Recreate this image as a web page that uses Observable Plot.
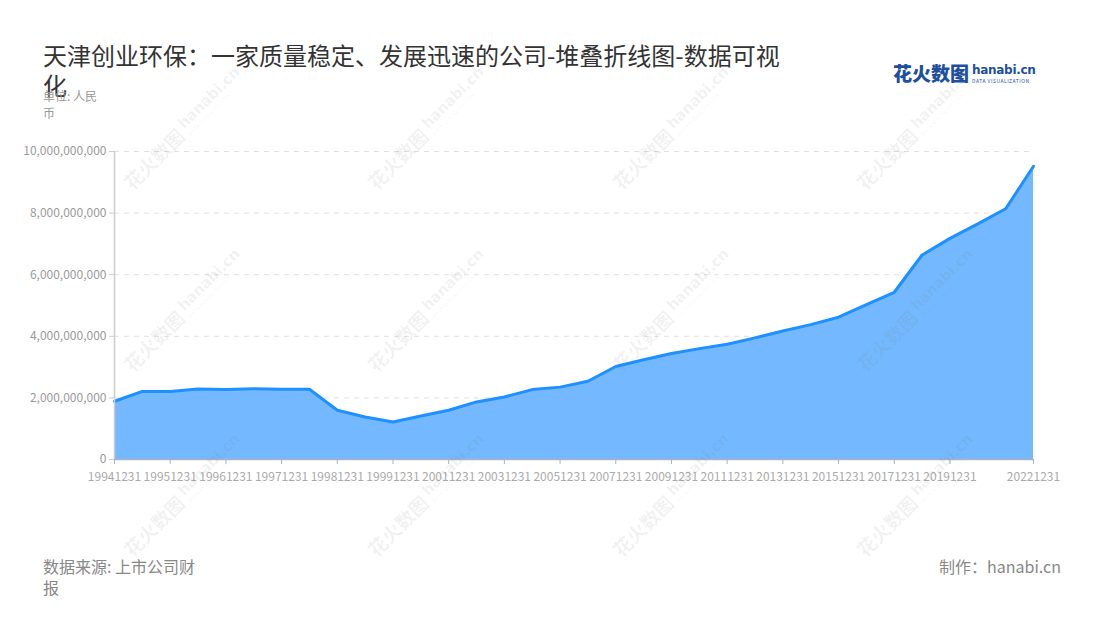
<!DOCTYPE html>
<html>
<head>
<meta charset="utf-8">
<script src="https://cdn.jsdelivr.net/npm/d3@7"></script>
<script src="https://cdn.jsdelivr.net/npm/@observablehq/plot@0.6"></script>
<style>
  html, body { margin: 0; padding: 0; background: #fff; }
  body { width: 1100px; height: 620px; position: relative; overflow: hidden;
         font-family: "Noto Sans CJK SC", "Noto Sans", sans-serif; }
  .abs { position: absolute; }
  #title { left: 43px; top: 40px; width: 750px; font-size: 24px; line-height: 30px; color: #333; }
  #unit { left: 43px; top: 87px; width: 66px; font-size: 12px; line-height: 17px; color: #999; }
  #chart { left: 0; top: 120px; width: 1100px; }
  #source { left: 43px; top: 556px; width: 160px; font-size: 16px; line-height: 21px; color: #888; }
  #maker { right: 39px; top: 556px; font-size: 16px; line-height: 21px; color: #888; }
  #logo { left: 893px; top: 59px; white-space: nowrap; }
  #logo .cn { font-size: 19px; font-weight: 900; color: #1d4f9f; vertical-align: top; }
  #logo .en { display: inline-block; vertical-align: top; margin-left: 3px; line-height: 1; }
  #logo .en b { font-family: "DejaVu Sans", sans-serif; font-size: 12px; color: #1d4f9f; display: block; margin-top: 5px; letter-spacing: -0.3px; }
  #logo .en i { font-style: normal; font-size: 5px; color: #1d4f9f; display: block; letter-spacing: 0.5px; margin-top: 2px; }
  .wm { position: absolute; transform: rotate(-45deg); transform-origin: center; white-space: nowrap;
        color: rgba(110,110,110,0.09); pointer-events: none; line-height: 1; }
  .wm .c { font-size: 19px; font-weight: 700; vertical-align: middle; }
  .wm .e { display: inline-block; vertical-align: middle; margin-left: 4px; }
  .wm .e b { display: block; font-family: "DejaVu Sans", sans-serif; font-size: 15px; font-weight: 700; letter-spacing: -0.3px; }
  .wm .e i { display: block; font-style: normal; font-size: 5px; letter-spacing: 0.5px; margin-top: 1px; }
</style>
</head>
<body>
<div id="title" class="abs">天津创业环保：一家质量稳定、发展迅速的公司-堆叠折线图-数据可视化</div>
<div id="unit" class="abs">单位: 人民币</div>
<div id="logo" class="abs"><span class="cn">花火数图</span><span class="en"><b>hanabi.cn</b><i>DATA VISUALIZATION</i></span></div>
<div id="chart" class="abs"></div>
<div id="source" class="abs">数据来源: 上市公司财报</div>
<div id="maker" class="abs">制作：hanabi.cn</div>
<div id="wms"></div>
<script>
// Report dates (categories)
const dates = [
  "19941231","19950630","19951231","19960630","19961231","19970630","19971231","19980630",
  "19981231","19990630","19991231","20001231","20011231","20021231","20031231","20041231",
  "20051231","20061231","20071231","20081231","20091231","20101231","20111231","20121231",
  "20131231","20141231","20151231","20161231","20171231","20181231","20191231","20201231",
  "20211231","20221231"
];
// Values in billions of yuan
const valuesBillion = [
  1.89, 2.21, 2.21, 2.29, 2.27, 2.30, 2.28, 2.28,
  1.60, 1.38, 1.22, 1.41, 1.60, 1.87, 2.03, 2.27,
  2.35, 2.54, 3.02, 3.24, 3.44, 3.60, 3.74, 3.95,
  4.17, 4.38, 4.62, 5.03, 5.43, 6.64, 7.18, 7.65,
  8.14, 9.52
];
const yTicks = [0, 2e9, 4e9, 6e9, 8e9, 1e10];
const xTickLabels = [
  "19941231","19951231","19961231","19971231","19981231","19991231","20011231","20031231",
  "20051231","20071231","20091231","20111231","20131231","20151231","20171231","20191231","20221231"
];

const data = dates.map((d, i) => ({i, date: d, value: valuesBillion[i] * 1e9}));
const xTickIdx = xTickLabels.map(l => dates.indexOf(l));

const chart = Plot.plot({
  width: 1100,
  height: 370,
  marginTop: 31,
  marginBottom: 31,
  marginLeft: 114,
  marginRight: 67,
  style: {fontFamily: '"Noto Sans CJK SC", "Noto Sans", sans-serif', fontSize: "12px", background: "transparent", color: "#999"},
  x: {type: "linear", domain: [0, dates.length - 1], label: null},
  y: {domain: [0, 1e10], label: null},
  marks: [
    Plot.gridY(yTicks.filter(d => d > 0), {stroke: "#e0e0e0", strokeOpacity: 1, strokeDasharray: "5,5", strokeWidth: 1}),
    Plot.areaY(data, {x: "i", y: "value", fill: "#74b9ff", fillOpacity: 1}),
    Plot.lineY(data, {x: "i", y: "value", stroke: "#1e90ff", strokeWidth: 3, strokeLinejoin: "round"}),
    Plot.ruleX([0], {y1: 0, y2: 1e10, stroke: "#cccccc", strokeWidth: 1.5}),
    Plot.ruleY([0], {stroke: "#a8b3c4", strokeWidth: 1.5}),
    Plot.axisY({ticks: yTicks, tickFormat: d3.format(","), tickSize: 5, tickPadding: 3, fontSize: 12, stroke: "#cccccc", fill: "#9a9a9a", label: null}),
    Plot.axisX({ticks: xTickIdx, tickFormat: i => dates[i], tickSize: 5, tickPadding: 8, fontSize: 12, stroke: "#a8b3c4", fill: "#aaaaaa", label: null})
  ]
});
document.getElementById("chart").appendChild(chart);

// watermarks
const wmX = [183, 427, 672, 916];
const wmY = [128, 310, 495];
const wms = document.getElementById("wms");
wmY.forEach(cy => wmX.forEach(cx => {
  const el = document.createElement("div");
  el.className = "wm";
  el.innerHTML = '<span class="c">花火数图</span><span class="e"><b>hanabi.cn</b><i>DATA VISUALIZATION</i></span>';
  wms.appendChild(el);
  const w = el.offsetWidth, h = el.offsetHeight;
  el.style.left = (cx - w / 2) + "px";
  el.style.top = (cy - h / 2) + "px";
}));
</script>
</body>
</html>
